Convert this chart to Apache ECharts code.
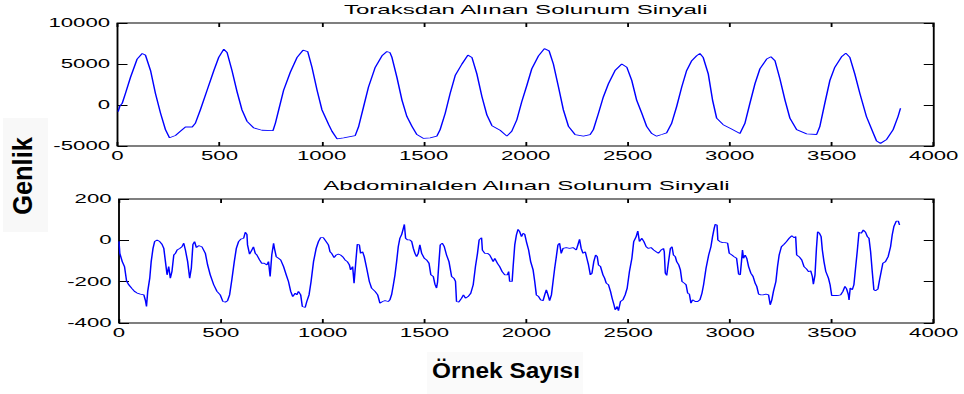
<!DOCTYPE html>
<html>
<head>
<meta charset="utf-8">
<script src="https://cdn.jsdelivr.net/npm/echarts@6/dist/echarts.min.js"></script>
<style>
  html, body { margin: 0; padding: 0; background: #fff; overflow: hidden; }
  #wrap { width: 964px; height: 394px; position: relative; overflow: hidden; }
  #chart { position: absolute; left: 0; top: 0; height: 394px; transform-origin: 0 0; }
</style>
</head>
<body>
<div id="wrap"><div id="chart"></div></div>
<script>
// Thorax respiration signal: sample index / amplitude
const thoraxIdx = [3,12,23,40,64,96,121,137,162,186,211,235,255,284,308,333,366,382,406,439,472,496,521,537,561,586,610,635,668,708,762,774,790,814,847,880,909,932,953,978,1002,1035,1051,1076,1108,1165,1182,1206,1230,1263,1296,1320,1335,1345,1369,1394,1418,1443,1467,1500,1532,1565,1581,1606,1630,1655,1688,1717,1737,1761,1786,1810,1835,1875,1908,1932,1957,1981,2006,2030,2063,2092,2115,2136,2161,2185,2210,2242,2283,2316,2332,2357,2381,2406,2438,2471,2496,2520,2544,2569,2593,2618,2642,2667,2691,2716,2740,2765,2789,2814,2838,2854,2870,2895,2916,2936,2968,3009,3050,3075,3099,3124,3148,3181,3202,3222,3246,3271,3295,3328,3377,3426,3442,3466,3491,3515,3548,3569,3589,3613,3638,3670,3703,3720,3739,3769,3801,3825,3837];
const thoraxVal = [-800,-100,200,1500,3400,5600,6280,6080,4200,1400,-1000,-3000,-4000,-3720,-3200,-2680,-2680,-2200,-600,1800,4200,5800,6800,6400,4200,1600,-600,-2000,-2800,-3080,-3120,-2200,-600,1800,4000,5800,6680,6520,4600,1800,-600,-2400,-3200,-4120,-4000,-3720,-2600,-200,2200,4600,6000,6520,6400,5800,3400,600,-1400,-2600,-3600,-4080,-4000,-3800,-3000,-1000,1400,3600,5000,6080,5800,3800,1000,-1200,-2520,-3080,-3800,-3200,-1800,400,2400,4400,6000,6880,6600,5000,2200,-600,-2600,-3600,-3800,-3600,-3000,-1000,1000,2600,4200,5000,4600,3000,600,-1000,-2600,-3480,-3800,-3600,-3400,-2200,-200,2200,4200,5400,6000,6280,5800,3800,600,-1600,-2400,-2920,-3480,-2200,200,2600,4400,5600,5880,5400,3200,600,-1600,-3000,-3520,-3600,-2600,200,3000,4600,5880,6320,5800,3800,1400,-1400,-3400,-4400,-4680,-4200,-3000,-1400,-400];

// Abdominal respiration signal: sample index / amplitude
const abdomenIdx = [0,4,16,27,37,48,65,76,89,105,122,130,135,141,151,158,167,175,187,200,211,220,228,236,244,252,260,269,277,285,298,309,318,326,337,347,355,363,371,380,391,407,424,435,448,465,481,497,510,522,533,543,554,566,576,587,598,612,620,628,631,641,652,660,669,677,690,701,713,726,734,742,750,759,763,772,783,794,808,821,832,843,853,865,873,881,892,900,914,922,933,943,955,968,979,990,1003,1017,1028,1036,1044,1056,1066,1077,1088,1098,1110,1121,1131,1137,1147,1154,1164,1170,1180,1186,1196,1204,1216,1229,1240,1257,1270,1281,1294,1306,1322,1330,1339,1347,1355,1363,1371,1379,1388,1396,1401,1407,1417,1428,1437,1445,1453,1461,1469,1477,1486,1499,1510,1522,1531,1543,1551,1559,1564,1571,1577,1587,1597,1608,1620,1633,1644,1652,1657,1668,1682,1691,1701,1714,1727,1739,1750,1760,1768,1780,1784,1796,1809,1820,1829,1837,1845,1858,1869,1881,1894,1907,1913,1918,1930,1935,1943,1951,1959,1967,1976,1984,1992,2000,2011,2021,2033,2041,2049,2060,2070,2082,2090,2098,2106,2114,2123,2131,2139,2147,2155,2163,2171,2180,2196,2212,2229,2245,2253,2261,2269,2278,2289,2299,2305,2314,2322,2331,2340,2348,2354,2364,2376,2384,2392,2403,2413,2421,2430,2436,2446,2452,2462,2474,2485,2495,2506,2518,2527,2539,2547,2555,2567,2577,2588,2599,2612,2625,2637,2648,2661,2673,2677,2682,2689,2699,2707,2715,2722,2731,2738,2748,2756,2764,2775,2784,2792,2800,2808,2816,2829,2841,2852,2862,2870,2882,2895,2906,2914,2922,2927,2936,2940,2950,2963,2976,2988,2996,3009,3020,3032,3042,3050,3056,3061,3066,3074,3082,3091,3102,3113,3123,3131,3140,3151,3162,3176,3189,3197,3205,3213,3225,3233,3241,3252,3265,3277,3290,3303,3314,3322,3327,3339,3352,3363,3375,3385,3396,3404,3409,3417,3424,3430,3439,3447,3453,3461,3470,3483,3491,3499,3510,3527,3543,3554,3564,3572,3581,3584,3590,3600,3608,3616,3625,3633,3644,3654,3665,3674,3682,3690,3698,3706,3714,3726,3734,3742,3750,3763,3776,3788,3796,3804,3816,3826,3832];
const abdomenVal = [-5,-63,-103,-127,-196,-215,-235,-247,-255,-260,-264,-292,-320,-247,-183,-103,-39,-6,2,-6,-19,-39,-103,-167,-127,-183,-151,-71,-63,-47,-39,-31,-14,-47,-103,-183,-135,-19,-6,-35,-26,-31,-63,-119,-167,-215,-247,-264,-296,-299,-292,-264,-191,-103,-39,-6,6,10,39,29,-22,-67,-47,-31,-63,-71,-95,-111,-111,-119,-103,-175,-71,-14,-39,-79,-87,-95,-127,-167,-199,-247,-272,-256,-264,-247,-264,-320,-325,-296,-264,-199,-103,-39,-6,13,13,-6,-22,-55,-63,-84,-71,-67,-71,-79,-95,-103,-119,-143,-127,-207,-87,-19,-22,-63,-55,-79,-135,-199,-231,-247,-264,-304,-296,-292,-296,-288,-260,-215,-167,-103,-31,10,29,58,77,10,2,2,-6,-39,-63,-79,-63,-22,-63,-87,-95,-111,-167,-175,-212,-231,-202,-103,-22,-14,-31,-71,-103,-175,-183,-199,-296,-299,-280,-264,-280,-272,-256,-215,-127,-63,2,13,-47,-63,-63,-71,-87,-103,-87,-111,-127,-151,-167,-167,-151,-199,-199,-127,-22,26,53,42,18,34,29,-6,-47,-103,-143,-199,-264,-272,-288,-292,-264,-239,-264,-292,-264,-199,-135,-79,-22,-14,-63,-39,-35,-39,-35,-47,-22,5,-39,-63,-55,-95,-119,-167,-159,-103,-71,-79,-119,-127,-167,-183,-207,-215,-247,-280,-312,-336,-320,-341,-296,-288,-264,-231,-151,-87,-6,18,45,-6,10,-6,-31,-39,-35,-47,-55,-63,-47,-39,-55,-159,-170,-95,-39,-31,-71,-79,-103,-119,-143,-199,-207,-215,-256,-260,-304,-288,-296,-296,-288,-256,-215,-135,-71,-31,18,58,77,74,2,-6,-11,-11,-14,-63,-71,-79,-87,-164,-167,-103,-47,-87,-71,-87,-127,-159,-175,-207,-223,-260,-264,-264,-260,-264,-312,-288,-247,-199,-127,-71,-31,-19,-6,10,22,13,18,-71,-79,-95,-127,-138,-151,-148,-175,-212,-167,-39,42,34,18,-47,-103,-151,-183,-215,-267,-267,-267,-264,-247,-223,-235,-264,-288,-231,-239,-215,-135,-47,39,34,50,39,18,10,-55,-151,-239,-244,-235,-191,-151,-111,-103,-79,-31,26,66,93,93,74];

// Axis scales
const sampleTicks = [0, 500, 1000, 1500, 2000, 2500, 3000, 3500, 4000];
const thoraxTicks = [-5000, 0, 5000, 10000];
const abdomenTicks = [-400, -200, 0, 200];

// Text
const thoraxTitle = 'Toraksdan Alınan Solunum Sinyali';
const abdomenTitle = 'Abdominalden Alınan Solunum Sinyali';
const yName = 'Genlik';
const xName = 'Örnek Sayısı';

// The figure is drawn in a narrower canvas and widened horizontally by K.
const K = 1.85;
const PAGE_W = 964, PAGE_H = 394;
const W = PAGE_W / K;
const hx = v => v / K;   // page x -> chart x

const FONT = "'Liberation Sans', Arial, Helvetica, sans-serif";
const BLUE = '#0000ff';

const grids = [
  { left: hx(117.5), top: 23, width: hx(934 - 117.5), height: 123 },
  { left: hx(119), top: 199, width: hx(934 - 119), height: 124 }
];

const plainNumber = v => String(v);

function xAxes(gi) {
  const base = {
    gridIndex: gi, type: 'value',
    min: sampleTicks[0], max: sampleTicks[sampleTicks.length - 1],
    interval: sampleTicks[1] - sampleTicks[0],
    axisLine: { show: false, onZero: false },
    splitLine: { show: false },
    axisTick: { inside: true, length: 4, lineStyle: { color: '#000', width: 1 } }
  };
  return [
    Object.assign({}, base, {
      position: 'bottom',
      axisLabel: { margin: 4, fontSize: 12, color: '#000', fontFamily: FONT, formatter: plainNumber, showMinLabel: true, showMaxLabel: true }
    }),
    Object.assign({}, base, { position: 'top', axisLabel: { show: false } })
  ];
}

function yAxes(gi, ticks) {
  const base = {
    gridIndex: gi, type: 'value',
    min: ticks[0], max: ticks[ticks.length - 1],
    interval: ticks[1] - ticks[0],
    axisLine: { show: false, onZero: false },
    splitLine: { show: false },
    axisTick: { inside: true, length: hx(10), lineStyle: { color: '#000', width: 1 } }
  };
  return [
    Object.assign({}, base, {
      position: 'left',
      axisLabel: { margin: 4, fontSize: 12, color: '#000', fontFamily: FONT, formatter: plainNumber, showMinLabel: true, showMaxLabel: true }
    }),
    Object.assign({}, base, { position: 'right', axisLabel: { show: false } })
  ];
}

function pairs(xs, ys) { return xs.map((x, i) => [x, ys[i]]); }

const chartEl = document.getElementById('chart');
chartEl.style.width = W + 'px';
chartEl.style.transform = 'scaleX(' + K + ')';

const chart = echarts.init(chartEl, null, { renderer: 'svg', width: W, height: PAGE_H });

const gridCenter = g => g.left + g.width / 2;

chart.setOption({
  animation: false,
  backgroundColor: '#fff',
  grid: grids.map(g => Object.assign({ show: true, borderColor: '#000', borderWidth: 1, backgroundColor: 'transparent' }, g)),
  xAxis: [...xAxes(0), ...xAxes(1)],
  yAxis: [...yAxes(0, thoraxTicks), ...yAxes(1, abdomenTicks)],
  series: [
    {
      type: 'line', xAxisIndex: 0, yAxisIndex: 0,
      data: pairs(thoraxIdx, thoraxVal),
      symbol: 'none', lineStyle: { color: BLUE, width: 0.8 }
    },
    {
      type: 'line', xAxisIndex: 2, yAxisIndex: 2,
      data: pairs(abdomenIdx, abdomenVal),
      symbol: 'none', lineStyle: { color: BLUE, width: 0.8 }
    }
  ],
  graphic: [
    // light backing panels behind the outer axis names
    { type: 'rect', shape: { x: hx(3), y: 118, width: hx(45), height: 114 }, style: { fill: '#f8f8f8' }, z: -1 },
    { type: 'rect', shape: { x: hx(427), y: 352, width: hx(156), height: 42 }, style: { fill: '#fafafa' }, z: -1 },
    {
      type: 'text', x: gridCenter(grids[0]), y: 9.5,
      style: { text: thoraxTitle, font: '13px ' + FONT, fill: '#000', textAlign: 'center', textVerticalAlign: 'middle' }
    },
    {
      type: 'text', x: gridCenter(grids[1]), y: 186,
      style: { text: abdomenTitle, font: '13px ' + FONT, fill: '#000', textAlign: 'center', textVerticalAlign: 'middle' }
    },
    {
      type: 'text', x: hx(23), y: 176, rotation: Math.PI / 2,
      scaleX: 1.06, scaleY: 1.14 / K,
      style: { text: yName, font: 'bold 24px ' + FONT, fill: '#000', textAlign: 'center', textVerticalAlign: 'middle' }
    },
    {
      type: 'text', x: hx(506), y: 370.5,
      scaleX: 1.11 / K, scaleY: 1,
      style: { text: xName, font: 'bold 22px ' + FONT, fill: '#000', textAlign: 'center', textVerticalAlign: 'middle' }
    }
  ]
});
</script>
</body>
</html>
